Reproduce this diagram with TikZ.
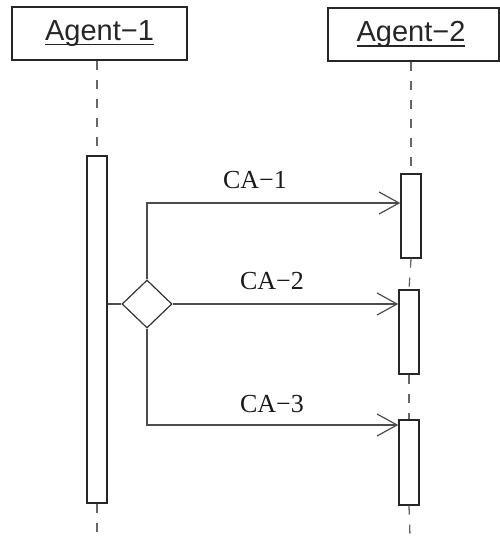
\documentclass[tikz,border=0pt]{standalone}
\usepackage{fontspec}
\setmainfont{Liberation Serif}
\setsansfont{Liberation Sans}
\usetikzlibrary{shapes.geometric,arrows.meta}
% underlined object name, as in a UML lifeline head
\newcommand\objname[1]{\raisebox{3pt}{\setbox0\hbox{#1}\rlap{\rule[-5pt]{\wd0}{1.4pt}}\box0}}
\begin{document}
\begin{tikzpicture}[x=1pt,y=-1pt,
  agentbox/.style={draw=black!85, line width=1.4pt, inner sep=0pt,
    minimum height=53pt, font=\sffamily\fontsize{29}{29}\selectfont, text=black!85},
  actbar/.style={draw=black!85, fill=white, line width=1.4pt, inner sep=0pt,
    minimum width=20pt},
  choice/.style={diamond, draw=black!80, fill=white, line width=1.2pt, inner sep=0pt,
    minimum width=50pt, minimum height=48pt},
  lifeline/.style={draw=black!60, line width=1.3pt, dash pattern=on 9pt off 10pt},
  msg/.style={draw=black!70, line width=1.2pt,
    -{Straight Barb[length=20pt,width=22pt,line width=1.2pt]}},
  wire/.style={draw=black!70, line width=1.2pt},
  lbl/.style={font=\fontsize{26}{26}\selectfont, text=black!90, inner sep=0pt}
]
\useasboundingbox (0,0) rectangle (500,536);

% lifeline heads
\node[agentbox, minimum width=175pt] (a1) at (99.5,33.5) {\objname{Agent−1}};
\node[agentbox, minimum width=171pt] (a2) at (413.5,34.5) {\objname{Agent−2}\kern5pt};

% activation bars
\node[actbar, minimum height=347pt] (b1) at (97,329.5) {};
\node[actbar, minimum height=84pt] (b21) at (411,216) {};
\node[actbar, minimum height=84pt] (b22) at (409,332) {};
\node[actbar, minimum height=85pt] (b23) at (409,462.5) {};

% lifelines
\coordinate (e1) at (97,536);
\coordinate (e2) at (410,536);
\draw[lifeline] (b1.north |- a1.south) -- (b1.north);
\draw[lifeline] (b1.south) -- (e1);
\draw[lifeline] (b21.north |- a2.south) -- (b21.north);
\draw[lifeline] (b21.south) -- (b22.north);
\draw[lifeline] (b22.south) -- (b23.north);
\draw[lifeline] (b23.south) -- (e2);

% branching point
\node[choice] (d) at (147,304) {};
\draw[wire] (b1.east |- d.west) -- (d.west);

% alternative messages
\coordinate (k1) at (147,203);
\coordinate (k3) at (147,425);
\draw[msg] (d.north) -- (k1) -- (k1 -| b21.west);
\draw[msg] (d.east) -- (d.east -| b22.west);
\draw[msg] (d.south) -- (k3) -- (k3 -| b23.west);

% message labels
\node[lbl] (l1) at (255,180) {CA−1};
\node[lbl] (l2) at (272,281) {CA−2};
\node[lbl] (l3) at (272,404) {CA−3};
\end{tikzpicture}
\end{document}
